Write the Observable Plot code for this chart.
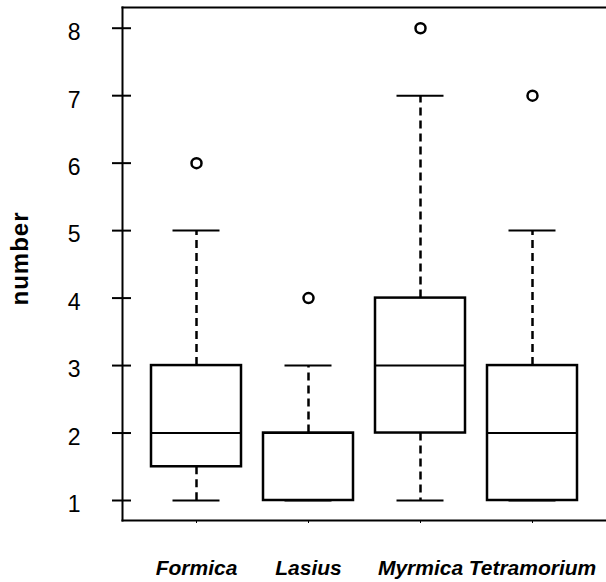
<!DOCTYPE html>
<html>
<head>
<meta charset="utf-8">
<script src="https://cdn.jsdelivr.net/npm/d3@7"></script>
<script src="https://cdn.jsdelivr.net/npm/@observablehq/plot@0.6"></script>
<style>
  html, body { margin: 0; padding: 0; background: #fff; }
</style>
</head>
<body>
<div id="chart"></div>
<script>
// Summary statistics of the box plot (counts per ant genus)
const species = ["Formica", "Lasius", "Myrmica", "Tetramorium"];
const lowerWhisker = [1, 1, 1, 1];
const q1 = [1.5, 1, 2, 1];
const median = [2, 2, 3, 2];
const q3 = [3, 2, 4, 3];
const upperWhisker = [5, 3, 7, 5];
const outlierSpecies = ["Formica", "Lasius", "Myrmica", "Tetramorium"];
const outlierValues = [6, 4, 8, 7];
const yTicks = [1, 2, 3, 4, 5, 6, 7, 8];
const yLabel = "number";

const boxes = species.map((s, i) => ({
  species: s, lo: lowerWhisker[i], q1: q1[i], med: median[i], q3: q3[i], hi: upperWhisker[i]
}));
const outliers = outlierSpecies.map((s, i) => ({species: s, value: outlierValues[i]}));

const font = "'Liberation Sans', Arial, Helvetica, sans-serif";

const plot = Plot.plot({
  width: 606,
  height: 582,
  marginLeft: 122,
  marginRight: 0,
  marginTop: 7,
  marginBottom: 62,
  style: {background: "#fff", fontFamily: font, color: "#000", overflow: "visible"},
  x: {domain: species, paddingInner: 0.2, paddingOuter: 0.26, axis: null},
  y: {domain: [0.7036, 8.307], axis: null},
  marks: [
    // whiskers (dashed)
    Plot.ruleX(boxes, {x: "species", y1: "q3", y2: "hi", stroke: "#000", strokeWidth: 2.5, strokeDasharray: "8,5"}),
    Plot.ruleX(boxes, {x: "species", y1: "q1", y2: "lo", stroke: "#000", strokeWidth: 2.5, strokeDasharray: "8,5"}),
    // whisker caps
    Plot.tickY(boxes, {x: "species", y: "hi", stroke: "#000", strokeWidth: 2, insetLeft: 21.5, insetRight: 21.5}),
    Plot.tickY(boxes, {x: "species", y: "lo", stroke: "#000", strokeWidth: 2, insetLeft: 21.5, insetRight: 21.5}),
    // boxes
    Plot.barY(boxes, {x: "species", y1: "q1", y2: "q3", fill: "#fff", stroke: "#000", strokeWidth: 2.5}),
    // medians
    Plot.tickY(boxes, {x: "species", y: "med", stroke: "#000", strokeWidth: 2}),
    // outliers
    Plot.dot(outliers, {x: "species", y: "value", r: 5, stroke: "#000", strokeWidth: 2.5, fill: "none"}),
    // frame: top, left, bottom
    Plot.frame({anchor: "top", stroke: "#000", strokeWidth: 2}),
    Plot.frame({anchor: "left", stroke: "#000", strokeWidth: 2}),
    Plot.frame({anchor: "bottom", stroke: "#000", strokeWidth: 2}),
    // y tick marks (crossing the axis line)
    Plot.axisY({ticks: yTicks, tickSize: 19, dx: 9, tickFormat: () => "", label: null, stroke: "#000", strokeWidth: 2}),
    // y tick labels
    Plot.axisY({ticks: yTicks, tickSize: 0, tickPadding: 42, dy: 4.5, label: null, fontSize: 23, fill: "#000", fontFamily: font}),
    // x tick marks and labels
    Plot.axisX({tickSize: 3, tickPadding: 37, label: null, fontSize: 21, fontWeight: "bold", fontStyle: "italic", fill: "#000", stroke: "#000", strokeWidth: 1, fontFamily: font}),
    // y axis title
    Plot.text([yLabel], {frameAnchor: "left", dx: -102, dy: -5.5, rotate: -90, text: d => d, fontSize: 24, fontWeight: "bold", fill: "#000", fontFamily: font, textAnchor: "middle", lineAnchor: "middle"})
  ]
});

d3.select(plot).selectAll("text").filter(function() { return this.textContent === yLabel; })
  .attr("letter-spacing", "1px");

document.getElementById("chart").appendChild(plot);
</script>
</body>
</html>
